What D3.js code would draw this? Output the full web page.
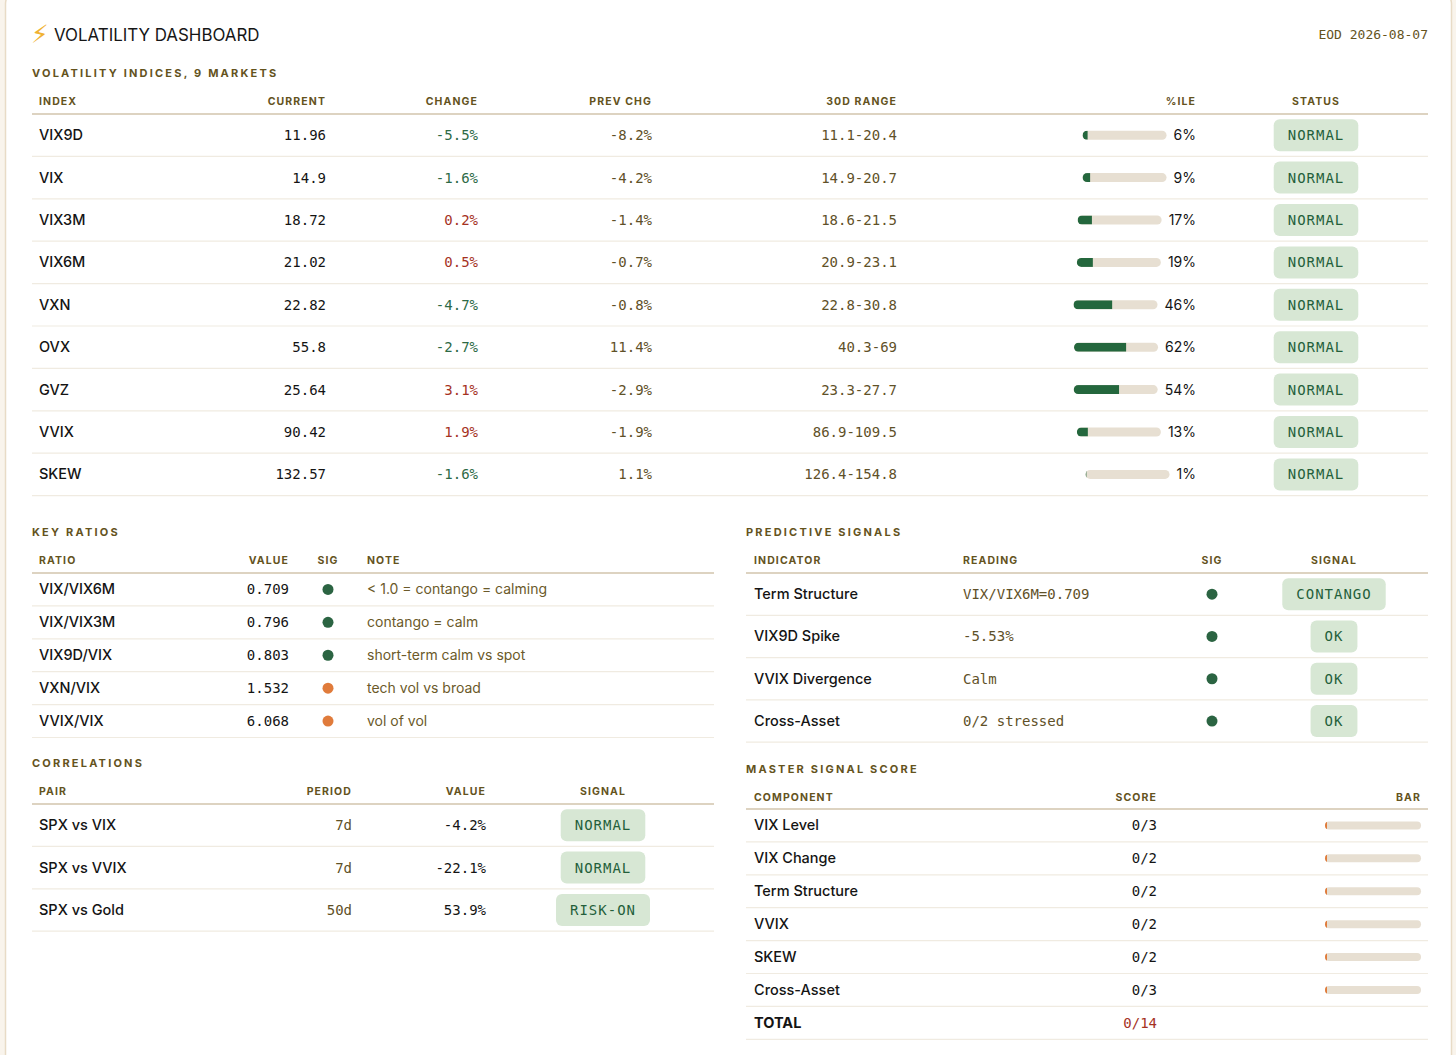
<!DOCTYPE html>
<html>
    <head>
        <title>Volatility Dashboard</title>
        <script src="https://d3js.org/d3.v7.min.js"></script>
        <style>
            body { margin: 0; background: #f9f4ec; }
            svg text { font-family: Inter, "Noto Sans", sans-serif; }
            .section { font-size: 11px; font-weight: 700; letter-spacing: 2.2px; fill: #64531d; }
            .head { font-size: 10.5px; font-weight: 700; letter-spacing: 1.1px; fill: #64531d; }
            .name { font-size: 14.5px; font-weight: 500; fill: #141414; }
            .mono { font-family: "DejaVu Sans Mono", "Liberation Mono", monospace !important; font-size: 14px; }
        </style>
    </head>
    <body>
        <svg id="chart" width="1456" height="1055"></svg>
        <script>
            // ---- data ----
            const indexNames = ["VIX9D", "VIX", "VIX3M", "VIX6M", "VXN", "OVX", "GVZ", "VVIX", "SKEW"];
            const currentValues = [11.96, 14.9, 18.72, 21.02, 22.82, 55.8, 25.64, 90.42, 132.57];
            const changePct = [-5.5, -1.6, 0.2, 0.5, -4.7, -2.7, 3.1, 1.9, -1.6];
            const prevChgPct = [-8.2, -4.2, -1.4, -0.7, -0.8, 11.4, -2.9, -1.9, 1.1];
            const rangeLow = [11.1, 14.9, 18.6, 20.9, 22.8, 40.3, 23.3, 86.9, 126.4];
            const rangeHigh = [20.4, 20.7, 21.5, 23.1, 30.8, 69, 27.7, 109.5, 154.8];
            const percentiles = [6, 9, 17, 19, 46, 62, 54, 13, 1];
            const statuses = ["NORMAL", "NORMAL", "NORMAL", "NORMAL", "NORMAL", "NORMAL", "NORMAL", "NORMAL", "NORMAL"];

            const ratioNames = ["VIX/VIX6M", "VIX/VIX3M", "VIX9D/VIX", "VXN/VIX", "VVIX/VIX"];
            const ratioValues = [0.709, 0.796, 0.803, 1.532, 6.068];
            const ratioSig = ["ok", "ok", "ok", "warn", "warn"];
            const ratioNotes = ["< 1.0 = contango = calming", "contango = calm", "short-term calm vs spot", "tech vol vs broad", "vol of vol"];

            const signalIndicators = ["Term Structure", "VIX9D Spike", "VVIX Divergence", "Cross-Asset"];
            const signalReadings = ["VIX/VIX6M=0.709", "-5.53%", "Calm", "0/2 stressed"];
            const signalSig = ["ok", "ok", "ok", "ok"];
            const signalLabels = ["CONTANGO", "OK", "OK", "OK"];

            const corrPairs = ["SPX vs VIX", "SPX vs VVIX", "SPX vs Gold"];
            const corrPeriods = ["7d", "7d", "50d"];
            const corrValues = [-4.2, -22.1, 53.9];
            const corrSignals = ["NORMAL", "NORMAL", "RISK-ON"];

            const components = ["VIX Level", "VIX Change", "Term Structure", "VVIX", "SKEW", "Cross-Asset"];
            const componentScores = [0, 0, 0, 0, 0, 0];
            const componentMax = [3, 2, 2, 2, 2, 3];

            // ---- style ----
            const col = {
                olive: "#64531d", oliveText: "#5f5128", ink: "#141414",
                green: "#2d6a46", red: "#a5321f",
                badgeFill: "#d7e7d4", badgeText: "#245f3b",
                barFill: "#24673d", barBg: "#e7dfd2", barWarn: "#e07b3b",
                dotOk: "#2b6442", dotWarn: "#e07b3b",
                headLine: "#ddd3c1", rowLine: "#f0ebe1"
            };

            const svg = d3.select("svg#chart");

            // card
            svg.append("rect").attr("width", 1456).attr("height", 1055).attr("fill", "#f9f4ec");
            svg.append("rect")
               .attr("x", 5.5).attr("y", -10).attr("width", 1446).attr("height", 1100)
               .attr("rx", 14).attr("fill", "#ffffff")
               .attr("stroke", "#e8dbc6").attr("stroke-width", 1.5);

            // header
            svg.append("text").attr("x", 31).attr("y", 43)
               .attr("font-size", 25).attr("fill", "#f0b231")
               .style("font-family", "'DejaVu Sans', sans-serif")
               .text("⚡");
            svg.append("text").attr("x", 54).attr("y", 41)
               .attr("font-size", 16.9).attr("fill", "#161616")
               .text("VOLATILITY DASHBOARD");
            svg.append("text").attr("class", "mono").attr("x", 1428).attr("y", 39)
               .attr("text-anchor", "end").attr("fill", col.olive)
               .style("font-size", "13px")
               .text("EOD 2026-08-07");

            // ---- cell renderers ----
            const textCell = (values, cls, color, fmt) => (sel, i, c) => {
                sel.append("text")
                   .attr("class", cls)
                   .attr("x", c.x).attr("y", 5)
                   .attr("text-anchor", c.anchor)
                   .attr("fill", typeof color === "function" ? color(values[i]) : color)
                   .text(fmt ? fmt(values[i]) : values[i]);
            };

            const badgeCell = (values) => (sel, i, c) => {
                const g = sel.append("g");
                const t = g.append("text")
                           .attr("class", "mono")
                           .attr("x", c.x).attr("y", 5)
                           .attr("text-anchor", "middle")
                           .attr("fill", col.badgeText)
                           .style("letter-spacing", "1px")
                           .text(values[i]);
                const w = t.node().getComputedTextLength() + 28;
                g.insert("rect", "text")
                 .attr("x", c.x - w / 2).attr("y", -16)
                 .attr("width", w).attr("height", 32)
                 .attr("rx", 6).attr("fill", col.badgeFill);
            };

            const dotCell = (values) => (sel, i, c) => {
                sel.append("circle")
                   .attr("cx", c.x).attr("cy", 0).attr("r", 5.5)
                   .attr("fill", values[i] === "ok" ? col.dotOk : col.dotWarn);
            };

            let clipId = 0;
            const pctBar = d3.scaleLinear().domain([0, 100]).range([0, 84]);
            const pctCell = (values) => (sel, i, c) => {
                const t = sel.append("text")
                             .attr("x", c.x).attr("y", 5)
                             .attr("text-anchor", "end")
                             .attr("font-size", 14).attr("fill", col.ink)
                             .text(values[i] + "%");
                const right = c.x - t.node().getComputedTextLength() - 7;
                const left = right - pctBar.range()[1];
                const id = "pclip" + (clipId++);
                sel.append("clipPath").attr("id", id)
                   .append("rect").attr("x", left).attr("y", -4.5)
                   .attr("width", pctBar.range()[1]).attr("height", 9).attr("rx", 4.5);
                sel.append("rect").attr("x", left).attr("y", -4.5)
                   .attr("width", pctBar.range()[1]).attr("height", 9).attr("rx", 4.5)
                   .attr("fill", col.barBg);
                sel.append("rect").attr("x", left).attr("y", -4.5)
                   .attr("width", pctBar(values[i])).attr("height", 9)
                   .attr("clip-path", `url(#${id})`)
                   .attr("fill", col.barFill);
            };

            const scoreBar = d3.scaleLinear().domain([0, 1]).range([0, 96]);
            const scoreCell = (sel, i, c) => {
                if (i >= components.length) return;
                const left = c.x - scoreBar.range()[1];
                const id = "sclip" + (clipId++);
                sel.append("clipPath").attr("id", id)
                   .append("rect").attr("x", left).attr("y", -4)
                   .attr("width", scoreBar.range()[1]).attr("height", 8).attr("rx", 4);
                sel.append("rect").attr("x", left).attr("y", -4)
                   .attr("width", scoreBar.range()[1]).attr("height", 8).attr("rx", 4)
                   .attr("fill", col.barBg);
                sel.append("rect").attr("x", left).attr("y", -4)
                   .attr("width", Math.max(scoreBar(componentScores[i] / componentMax[i]), 2))
                   .attr("height", 8)
                   .attr("clip-path", `url(#${id})`)
                   .attr("fill", col.barWarn);
            };

            // ---- generic table ----
            function drawTable({title, x0, x1, titleY, headY, lineY, rowH, n, cols}) {
                const g = svg.append("g");
                g.append("text").attr("class", "section").attr("x", x0).attr("y", titleY).text(title);

                g.selectAll("text.head")
                 .data(cols)
                 .join("text")
                 .attr("class", "head")
                 .attr("x", d => d.x)
                 .attr("y", headY)
                 .attr("text-anchor", d => d.anchor)
                 .text(d => d.label);

                g.append("line")
                 .attr("x1", x0).attr("x2", x1)
                 .attr("y1", lineY).attr("y2", lineY)
                 .attr("stroke", col.headLine).attr("stroke-width", 2);

                const y = d3.scaleBand().domain(d3.range(n)).range([lineY, lineY + n * rowH]);

                const rows = g.selectAll("g.row")
                              .data(d3.range(n))
                              .join("g")
                              .attr("class", "row")
                              .attr("transform", i => `translate(0,${y(i) + y.bandwidth() / 2})`);

                rows.append("line")
                    .attr("x1", x0).attr("x2", x1)
                    .attr("y1", y.bandwidth() / 2).attr("y2", y.bandwidth() / 2)
                    .attr("stroke", col.rowLine).attr("stroke-width", 1.2);

                cols.forEach(c => rows.each(function(i) { c.cell(d3.select(this), i, c); }));
                return g;
            }

            const pct1 = v => v.toFixed(1) + "%";
            const signColor = v => v > 0 ? col.red : col.green;

            // Volatility indices
            drawTable({
                title: "VOLATILITY INDICES, " + indexNames.length + " MARKETS",
                x0: 32, x1: 1428, titleY: 77, headY: 105, lineY: 114, rowH: 42.4,
                n: indexNames.length,
                cols: [
                    {label: "INDEX", x: 39, anchor: "start", cell: textCell(indexNames, "name", col.ink)},
                    {label: "CURRENT", x: 326, anchor: "end", cell: textCell(currentValues, "mono", col.ink, v => String(v))},
                    {label: "CHANGE", x: 478, anchor: "end", cell: textCell(changePct, "mono", signColor, pct1)},
                    {label: "PREV CHG", x: 652, anchor: "end", cell: textCell(prevChgPct, "mono", col.oliveText, pct1)},
                    {label: "30D RANGE", x: 897, anchor: "end",
                     cell: textCell(d3.range(indexNames.length), "mono", col.oliveText, i => rangeLow[i] + "-" + rangeHigh[i])},
                    {label: "%ILE", x: 1196, anchor: "end", cell: pctCell(percentiles)},
                    {label: "STATUS", x: 1316, anchor: "middle", cell: badgeCell(statuses)}
                ]
            });

            // Key ratios
            drawTable({
                title: "KEY RATIOS",
                x0: 32, x1: 714, titleY: 536, headY: 564, lineY: 573, rowH: 32.9,
                n: ratioNames.length,
                cols: [
                    {label: "RATIO", x: 39, anchor: "start", cell: textCell(ratioNames, "name", col.ink)},
                    {label: "VALUE", x: 289, anchor: "end", cell: textCell(ratioValues, "mono", col.ink, v => v.toFixed(3))},
                    {label: "SIG", x: 328, anchor: "middle", cell: dotCell(ratioSig)},
                    {label: "NOTE", x: 367, anchor: "start", cell: (sel, i, c) => {
                        sel.append("text").attr("x", c.x).attr("y", 5)
                           .attr("font-size", 14).attr("fill", "#6b5a2a")
                           .text(ratioNotes[i]);
                    }}
                ]
            });

            // Predictive signals
            drawTable({
                title: "PREDICTIVE SIGNALS",
                x0: 746, x1: 1428, titleY: 536, headY: 564, lineY: 573, rowH: 42.3,
                n: signalIndicators.length,
                cols: [
                    {label: "INDICATOR", x: 754, anchor: "start", cell: textCell(signalIndicators, "name", col.ink)},
                    {label: "READING", x: 963, anchor: "start", cell: textCell(signalReadings, "mono", col.oliveText)},
                    {label: "SIG", x: 1212, anchor: "middle", cell: dotCell(signalSig)},
                    {label: "SIGNAL", x: 1334, anchor: "middle", cell: badgeCell(signalLabels)}
                ]
            });

            // Correlations
            drawTable({
                title: "CORRELATIONS",
                x0: 32, x1: 714, titleY: 767, headY: 795, lineY: 804, rowH: 42.4,
                n: corrPairs.length,
                cols: [
                    {label: "PAIR", x: 39, anchor: "start", cell: textCell(corrPairs, "name", col.ink)},
                    {label: "PERIOD", x: 352, anchor: "end", cell: textCell(corrPeriods, "mono", col.oliveText)},
                    {label: "VALUE", x: 486, anchor: "end", cell: textCell(corrValues, "mono", col.ink, pct1)},
                    {label: "SIGNAL", x: 603, anchor: "middle", cell: badgeCell(corrSignals)}
                ]
            });

            // Master signal score
            const scoreNames = components.concat(["TOTAL"]);
            const scoreText = components.map((d, i) => componentScores[i] + "/" + componentMax[i])
                                        .concat([d3.sum(componentScores) + "/" + d3.sum(componentMax)]);
            const master = drawTable({
                title: "MASTER SIGNAL SCORE",
                x0: 746, x1: 1428, titleY: 773, headY: 801, lineY: 809, rowH: 32.9,
                n: scoreNames.length,
                cols: [
                    {label: "COMPONENT", x: 754, anchor: "start", cell: textCell(scoreNames, "name", col.ink)},
                    {label: "SCORE", x: 1157, anchor: "end",
                     cell: textCell(d3.range(scoreNames.length), "mono", i => i === components.length ? col.red : col.ink, i => scoreText[i])},
                    {label: "BAR", x: 1421, anchor: "end", cell: scoreCell}
                ]
            });
            master.selectAll("g.row").filter(i => i === components.length)
                  .select("text.name").style("font-weight", 700);
        </script>
    </body>
</html>
